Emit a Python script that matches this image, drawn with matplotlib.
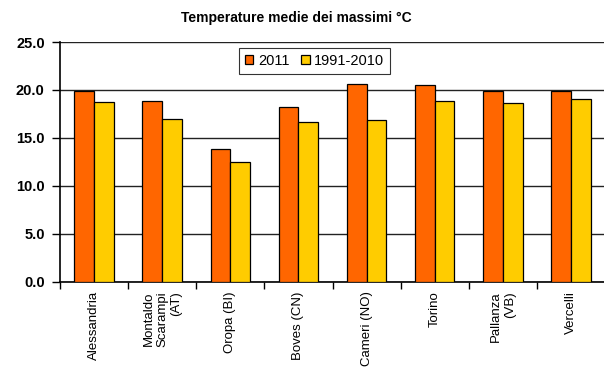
import matplotlib
matplotlib.use("Agg")
import matplotlib.pyplot as plt
import numpy as np

plt.rcParams['font.family'] = ['Liberation Sans', 'DejaVu Sans']

stations = ["Alessandria", "Montaldo\nScarampi\n(AT)", "Oropa (BI)", "Boves (CN)",
            "Cameri (NO)", "Torino", "Pallanza\n(VB)", "Vercelli"]
t_2011 = [19.9, 18.8, 13.8, 18.2, 20.6, 20.5, 19.9, 19.9]
t_1991_2010 = [18.7, 17.0, 12.5, 16.6, 16.9, 18.8, 18.6, 19.0]
series_names = ["2011", "1991-2010"]
yticks = [0.0, 5.0, 10.0, 15.0, 20.0, 25.0]

fig = plt.figure(figsize=(6.04, 3.69), dpi=100)
ax = fig.add_axes([60 / 604, 87.5 / 369, 545 / 604, 239.5 / 369])

x = np.arange(len(stations))
w = 0.29
ax.bar(x - w / 2, t_2011, width=w, color="#FF6600", edgecolor="black", linewidth=0.9,
       label=series_names[0], zorder=3)
ax.bar(x + w / 2, t_1991_2010, width=w, color="#FFCC00", edgecolor="black", linewidth=0.9,
       label=series_names[1], zorder=3)

ax.set_xlim(-0.5, len(stations) - 0.5)
ax.set_ylim(0, 25)
ax.set_yticks(yticks)
ax.set_yticklabels([f"{v:.1f}" for v in yticks], fontsize=10.5, fontweight="bold")
ax.yaxis.grid(True, color="#222222", linewidth=1.0, zorder=0)
ax.set_axisbelow(True)

# category boundary ticks, labels at category centres
ax.set_xticks(np.arange(len(stations) + 1) - 0.5)
ax.set_xticklabels([])
ax.tick_params(axis="x", which="major", length=5, width=1, color="black", direction="out")
ax.set_xticks(x, minor=True)
ax.set_xticklabels(stations, minor=True, rotation=90, fontsize=9.5, va="top", ha="center",
                   multialignment="right")
ax.tick_params(axis="x", which="minor", length=0, pad=7)
ax.tick_params(axis="y", length=6, width=1, color="black", pad=5)

for side in ("top", "right"):
    ax.spines[side].set_visible(False)
ax.spines["left"].set_linewidth(1.2)
ax.spines["bottom"].set_linewidth(1.2)

fig.text(296 / 604, 1 - 18 / 369, "Temperature medie dei massimi °C", fontsize=10,
         fontweight="bold", ha="center", va="center")

leg = ax.legend(loc="upper center", bbox_to_anchor=(0.467, 0.975), ncol=2, frameon=True,
                fancybox=False, edgecolor="black", fontsize=10.5, handlelength=0.6,
                handleheight=0.6, handletextpad=0.3, columnspacing=0.8, borderpad=0.4,
                borderaxespad=0)
leg.get_frame().set_linewidth(0.8)

fig.savefig("out.png", dpi=100, facecolor="white")
